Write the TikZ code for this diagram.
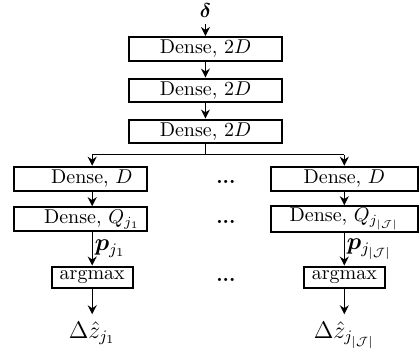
\documentclass[tikz,border=0pt]{standalone}
\usepackage{amsmath, amssymb}
\usepackage{bm}
\usepackage{xcolor}
\usepackage{tikz}
\usetikzlibrary{arrows.meta}

\newcommand{\lpad}{\hspace*{11pt}}

\begin{document}
\begin{tikzpicture}[scale=1.0,
  layer/.style={draw, line width=1pt, inner ysep=1pt, minimum height=0.42cm},
  argbox/.style={draw, line width=1pt, inner xsep=4pt, inner ysep=2pt},
  flow/.style={-{Stealth[length=4.5pt,width=4.5pt]}, line width=0.6pt}]
\useasboundingbox (0,0) rectangle (7.38,-6.18);
% shared trunk
\node (in) at (3.61,-0.18) {$\bm{\delta}$};
\node[layer, minimum width=2.69cm] (d1) at (3.61,-0.86) {Dense, $2D$};
\node[layer, minimum width=2.69cm] (d2) at (3.61,-1.59) {Dense, $2D$};
\node[layer, minimum width=2.69cm] (d3) at (3.61,-2.31) {Dense, $2D$};
\coordinate (split) at (3.61,-2.72);
\coordinate (cl) at (1.62,-2.72);
\coordinate (cr) at (6.05,-2.72);
% first head
\node[layer, minimum width=2.34cm] (dl) at (1.42,-3.14) {\lpad Dense, $D$};
\node[layer, minimum width=2.34cm] (ql) at (1.42,-3.85) {\lpad Dense, $Q_{j_1}$};
\node[argbox] (al) at (1.62,-4.87) {argmax};
\node[anchor=base, font=\large] (zl) at (1.62,-5.94) {$\Delta\hat{z}_{j_1}$};
% last head
\node[layer, minimum width=2.58cm] (dr) at (6.05,-3.14) {Dense, $D$};
\node[layer, minimum width=2.58cm] (qr) at (6.05,-3.85) {Dense, $Q_{j_{|\mathcal{J}|}}$};
\node[argbox] (ar) at (6.05,-4.87) {argmax};
\node[anchor=base, font=\large] (zr) at (6.05,-5.94) {$\Delta\hat{z}_{j_{|\mathcal{J}|}}$};
% heads in between
\node (dots1) at (3.97,-3.19) {\textbf{...}};
\node (dots2) at (3.97,-3.90) {\textbf{...}};
\node (dots3) at (3.97,-4.92) {\textbf{...}};
\draw[flow] (in)--(d1);
\draw[flow] (d1)--(d2);
\draw[flow] (d2)--(d3);
\draw[line width=0.6pt] (d3)--(split);
\draw[line width=0.6pt] (cl)--(cr);
\draw[flow] (cl)--(cl |- dl.north);
\draw[flow] (cr)--(dr);
\draw[flow] (dl.south -| cl)--(ql.north -| cl);
\draw[flow] (dr)--(qr);
\draw[flow] (ql.south -| cl)--node[right, font=\large, inner xsep=1pt]{$\bm{p}_{j_1}$} (al);
\draw[flow] (qr)--node[right, font=\large, inner xsep=1pt]{$\bm{p}_{j_{|\mathcal{J}|}}$} (ar);
\draw[flow] (al)--(zl);
\draw[flow] (ar)--(zr);
\end{tikzpicture}
\end{document}
